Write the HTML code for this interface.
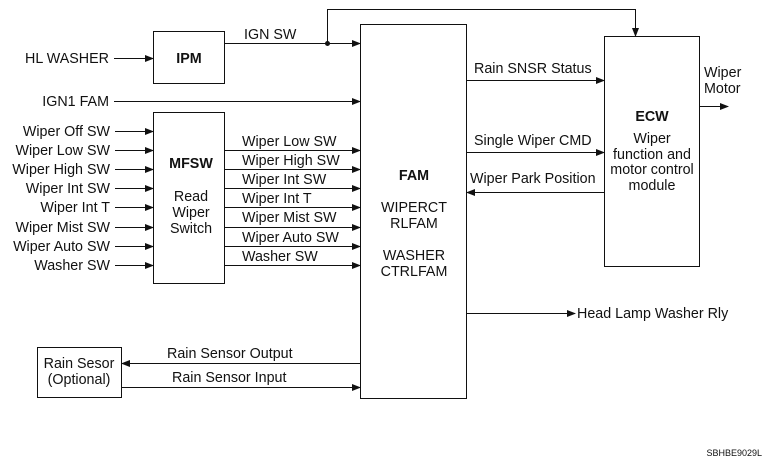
<!DOCTYPE html>
<html><head><style>
html,body{margin:0;padding:0;background:#fff;}
svg{display:block;}
text{font-family:"Liberation Sans",Arial,sans-serif;font-size:14.3px;fill:#111;}
.b{font-weight:bold;}
</style></head><body>
<svg width="768" height="465" viewBox="0 0 768 465" xmlns="http://www.w3.org/2000/svg">
<defs>
<marker id="a" markerWidth="9" markerHeight="8" refX="8" refY="4" orient="auto" markerUnits="userSpaceOnUse">
<path d="M0,0.5 L9,4 L0,7.5 Z" fill="#111"/></marker>
</defs>
<g stroke="#111" stroke-width="1" fill="none">
<rect x="153.5" y="31.5" width="71" height="52"/>
<rect x="153.5" y="112.5" width="71" height="171"/>
<rect x="360.5" y="24.5" width="106" height="374"/>
<rect x="604.5" y="36.5" width="95" height="230"/>
<rect x="37.5" y="347.5" width="84" height="50"/>
</g>
<g stroke="#111" stroke-width="1" marker-end="url(#a)">
<line x1="114" y1="58.5" x2="153" y2="58.5"/>
<line x1="225" y1="43.5" x2="360" y2="43.5"/>
<polyline points="327.5,43.5 327.5,9.5 635.5,9.5 635.5,36" fill="none"/>
<line x1="114" y1="101.5" x2="360" y2="101.5"/>
<line x1="115" y1="131.5" x2="153" y2="131.5"/>
<line x1="115" y1="150.5" x2="153" y2="150.5"/>
<line x1="115" y1="169.5" x2="153" y2="169.5"/>
<line x1="115" y1="188.5" x2="153" y2="188.5"/>
<line x1="115" y1="207.5" x2="153" y2="207.5"/>
<line x1="115" y1="227.5" x2="153" y2="227.5"/>
<line x1="115" y1="246.5" x2="153" y2="246.5"/>
<line x1="115" y1="265.5" x2="153" y2="265.5"/>
<line x1="225" y1="150.5" x2="360" y2="150.5"/>
<line x1="225" y1="169.5" x2="360" y2="169.5"/>
<line x1="225" y1="188.5" x2="360" y2="188.5"/>
<line x1="225" y1="207.5" x2="360" y2="207.5"/>
<line x1="225" y1="227.5" x2="360" y2="227.5"/>
<line x1="225" y1="246.5" x2="360" y2="246.5"/>
<line x1="225" y1="265.5" x2="360" y2="265.5"/>
<line x1="467" y1="80.5" x2="604" y2="80.5"/>
<line x1="467" y1="152.5" x2="604" y2="152.5"/>
<line x1="604" y1="192.5" x2="467" y2="192.5"/>
<line x1="700" y1="106.5" x2="728" y2="106.5"/>
<line x1="467" y1="313.5" x2="575" y2="313.5"/>
<line x1="360" y1="363.5" x2="122" y2="363.5"/>
<line x1="122" y1="387.5" x2="360" y2="387.5"/>
</g>
<circle cx="327.5" cy="43.5" r="2.5" fill="#111"/>
<g text-anchor="end">
<text x="109" y="63">HL WASHER</text>
<text x="109" y="106">IGN1 FAM</text>
<text x="110" y="136">Wiper Off SW</text>
<text x="110" y="155">Wiper Low SW</text>
<text x="110" y="174">Wiper High SW</text>
<text x="110" y="193">Wiper Int SW</text>
<text x="110" y="212">Wiper Int T</text>
<text x="110" y="232">Wiper Mist SW</text>
<text x="110" y="251">Wiper Auto SW</text>
<text x="110" y="270">Washer SW</text>
</g>
<text x="189" y="63" class="b" text-anchor="middle">IPM</text>
<text x="244" y="39">IGN SW</text>
<g text-anchor="middle">
<text x="191" y="168" class="b">MFSW</text>
<text x="191" y="201">Read</text>
<text x="191" y="217">Wiper</text>
<text x="191" y="233">Switch</text>
<text x="414" y="180" class="b">FAM</text>
<text x="414" y="212">WIPERCT</text>
<text x="414" y="228">RLFAM</text>
<text x="414" y="260">WASHER</text>
<text x="414" y="276">CTRLFAM</text>
<text x="652" y="121" class="b">ECW</text>
<text x="652" y="143">Wiper</text>
<text x="652" y="159">function and</text>
<text x="652" y="174">motor control</text>
<text x="652" y="190">module</text>
<text x="79" y="368">Rain Sesor</text>
<text x="79" y="384">(Optional)</text>
</g>
<text x="242" y="146">Wiper Low SW</text>
<text x="242" y="165">Wiper High SW</text>
<text x="242" y="184">Wiper Int SW</text>
<text x="242" y="203">Wiper Int T</text>
<text x="242" y="222">Wiper Mist SW</text>
<text x="242" y="242">Wiper Auto SW</text>
<text x="242" y="261">Washer SW</text>
<text x="474" y="73">Rain SNSR Status</text>
<text x="474" y="145">Single Wiper CMD</text>
<text x="470" y="183">Wiper Park Position</text>
<text x="704" y="77">Wiper</text>
<text x="704" y="93">Motor</text>
<text x="577" y="318">Head Lamp Washer Rly</text>
<text x="167" y="358">Rain Sensor Output</text>
<text x="172" y="382">Rain Sensor Input</text>
<text x="762" y="456" text-anchor="end" style="font-size:9px">SBHBE9029L</text>
</svg>
</body></html>
